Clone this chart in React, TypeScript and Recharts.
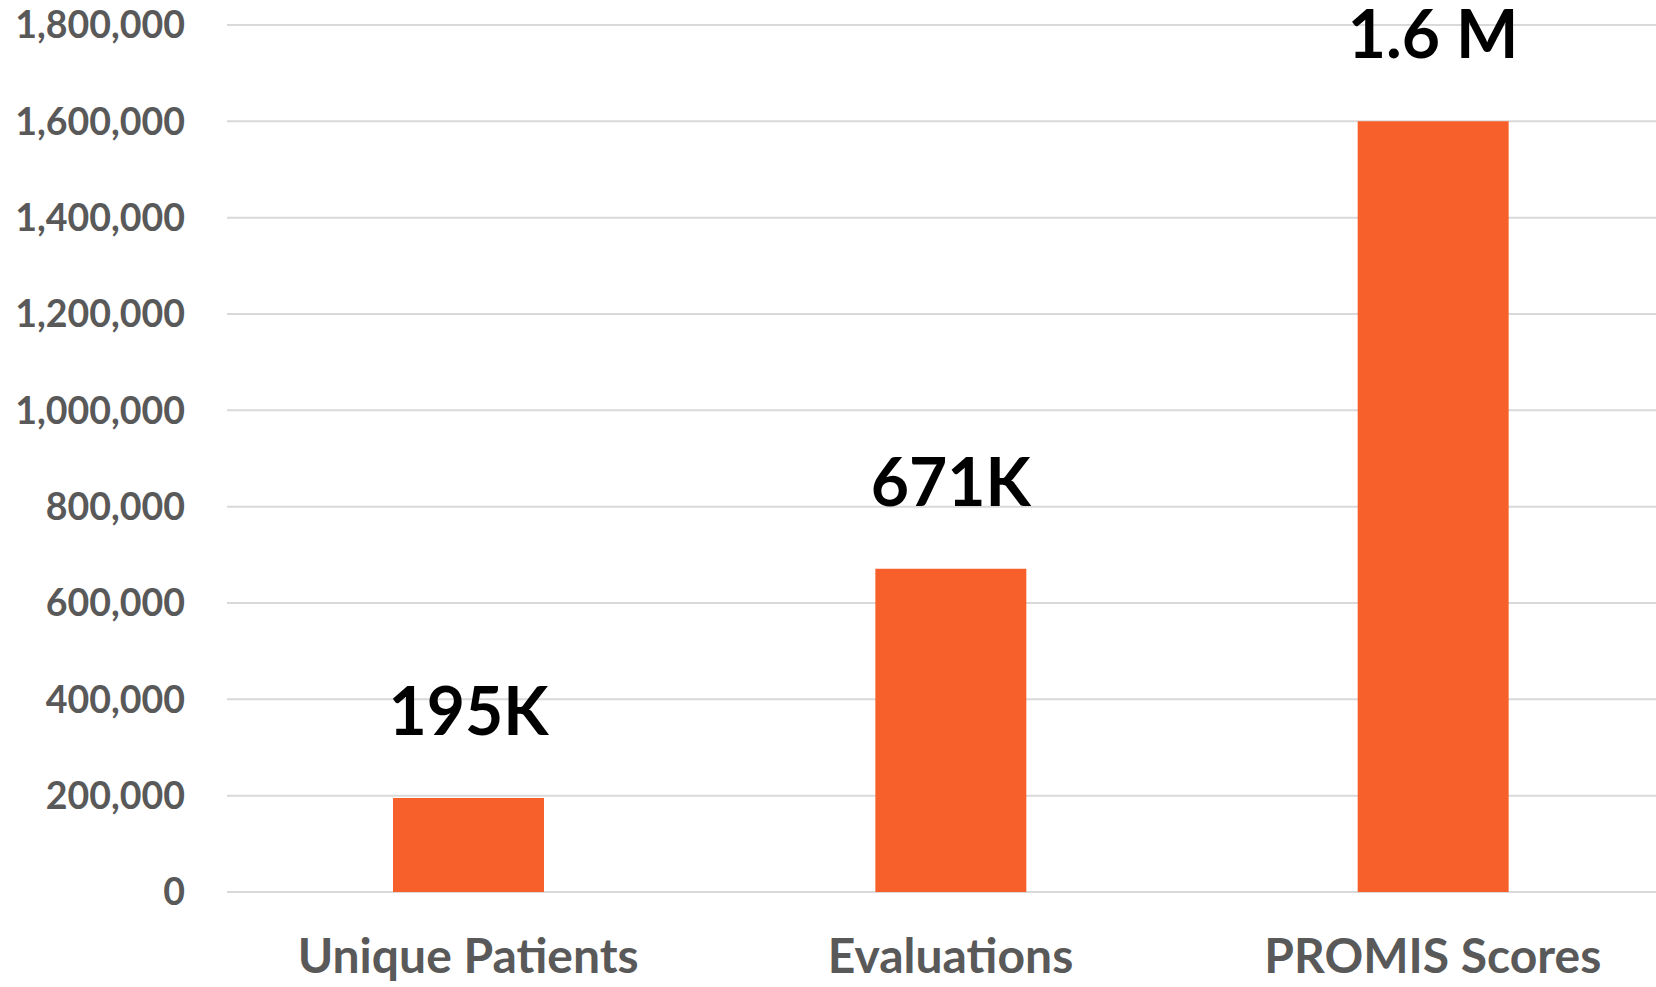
import React from "react";
import { BarChart, Bar, XAxis, YAxis, CartesianGrid, LabelList } from "recharts";

const categories = ["Unique Patients", "Evaluations", "PROMIS Scores"];
const counts = [195000, 671000, 1600000];
const valueLabels = ["195K", "671K", "1.6 M"];
const yTicks = [0, 200000, 400000, 600000, 800000, 1000000, 1200000, 1400000, 1600000, 1800000];

const data = categories.map((name, i) => ({ name, value: counts[i], label: valueLabels[i] }));

const FONT = "Lato, 'Open Sans', sans-serif";

export default function App() {
  return (
    <div
      style={{
        position: "fixed",
        left: 0,
        top: 0,
        width: 1656,
        height: 987,
        overflow: "hidden",
        background: "#ffffff",
      }}
    >
      <BarChart
        width={1680}
        height={987}
        data={data}
        margin={{ top: 25, right: 6, left: 0, bottom: 0 }}
        barSize={151}
      >
        <CartesianGrid vertical={false} stroke="#D9D9D9" strokeWidth={2} />
        <XAxis
          dataKey="name"
          axisLine={false}
          tickLine={false}
          tickSize={0}
          tickMargin={47}
          height={95}
          interval={0}
          tick={{ fill: "#595959", fontSize: 48, fontWeight: 700, fontFamily: FONT }}
        />
        <YAxis
          width={227}
          domain={[0, 1800000]}
          ticks={yTicks}
          axisLine={false}
          tickLine={false}
          tickSize={0}
          tickMargin={42}
          interval={0}
          tickFormatter={(v: number) => v.toLocaleString("en-US")}
          tick={{ fill: "#595959", fontSize: 37.5, fontWeight: 700, fontFamily: FONT }}
        />
        <Bar dataKey="value" fill="#F7602B" isAnimationActive={false}>
          <LabelList
            dataKey="label"
            position="top"
            offset={63}
            style={{ fill: "#000000", fontSize: 66, fontWeight: 700, fontFamily: FONT }}
          />
        </Bar>
      </BarChart>
    </div>
  );
}
